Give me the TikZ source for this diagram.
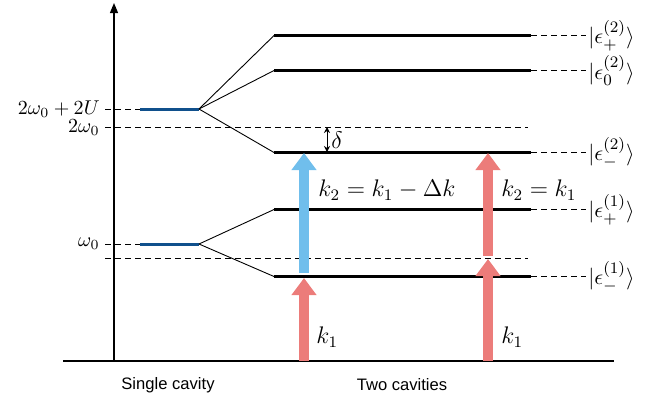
\documentclass[tikz,border=0pt]{standalone}
\usepackage{fontspec}
\newfontfamily\captionfont{Liberation Sans}
\usetikzlibrary{arrows.meta}
\definecolor{cavityblue}{RGB}{16,80,140}
\definecolor{photonred}{RGB}{236,124,122}
\definecolor{photonblue}{RGB}{112,190,236}
\tikzset{
  level/.style={line width=1.2pt},
  cavlevel/.style={line width=1.5pt, cavityblue},
  guide/.style={dash pattern=on 3pt off 2pt, line width=0.4pt},
  split/.style={line width=0.45pt},
  photon/.style={line width=4.6pt, -{Triangle[width=12pt,length=8.5pt]}},
  ketlabel/.style={anchor=west, inner sep=1pt, font=\fontsize{11}{13}\selectfont},
  energylabel/.style={anchor=east, inner sep=2.5pt},
  klabel/.style={anchor=west, inner sep=2pt, font=\large},
  caption/.style={font=\captionfont\fontsize{8.3}{10}\selectfont},
}
\begin{document}
\begin{tikzpicture}[x=0.5pt,y=-0.5pt]
\useasboundingbox (0,0) rectangle (662,403);
% axes
\coordinate (origin) at (114,361);
\coordinate (top) at (114,3);
\coordinate (baseL) at (63,361);
\coordinate (baseR) at (614,361);
\draw[line width=0.6pt, -{Triangle[length=5pt,width=4pt]}] (origin) -- (top);
\draw[line width=1.2pt] (baseL) -- (baseR);
% single cavity
\coordinate (s2L) at (140,109);
\coordinate (s2R) at (199,109);
\coordinate (s1L) at (140,244);
\coordinate (s1R) at (199,244);
\node[energylabel] (e2U) at (105,109) {$2\omega_0+2U$};
\node[energylabel] (e2) at (105,128) {$2\omega_0$};
\node[energylabel] (e1) at (105,244) {$\omega_0$};
\coordinate (g2R) at (528,127);
\coordinate (g1L) at (105,258);
\coordinate (g1R) at (528,258);
\draw[guide] (e2U.east) -- (s2L);
\draw[guide] (e1.east) -- (s1L);
\draw[guide] (105,127) -- (g2R);
\draw[guide] (g1L) -- (g1R);
\draw[cavlevel] (s2L) -- (s2R);
\draw[cavlevel] (s1L) -- (s1R);
% two cavities
\foreach \name/\y/\ket in {2p/35.5/{\epsilon^{(2)}_+}, 20/70.5/{\epsilon^{(2)}_0}, 2m/152.5/{\epsilon^{(2)}_-}, 1p/209.5/{\epsilon^{(1)}_+}, 1m/276.5/{\epsilon^{(1)}_-}}{
  \coordinate (\name L) at (274,\y);
  \coordinate (\name R) at (531,\y);
  \node[ketlabel] (ket\name) at (586,\y) {$|\ket\rangle$};
  \draw[level] (\name L) -- (\name R);
  \draw[guide] (\name R) -- (ket\name.west);
}
\draw[split] (s2R) -- (2pL);
\draw[split] (s2R) -- (20L);
\draw[split] (s2R) -- (2mL);
\draw[split] (s1R) -- (1pL);
\draw[split] (s1R) -- (1mL);
% detuning
\coordinate (dTop) at (327,127);
\coordinate (dBot) at (327,152);
\draw[line width=0.5pt, {Stealth[length=3pt,width=3pt]}-{Stealth[length=3pt,width=3pt]}] (dTop) -- (dBot);
\node[anchor=west, inner sep=1pt, font=\large] (delta) at (329,140) {$\delta$};
% photons
\coordinate (pA0) at (304,361);
\coordinate (pA1) at (304,278);
\coordinate (pA2) at (304,273);
\coordinate (pA3) at (304,153);
\coordinate (pB0) at (488,361);
\coordinate (pB1) at (488,259);
\coordinate (pB2) at (488,256);
\coordinate (pB3) at (488,153);
\draw[photon, photonred] (pA0) -- (pA1);
\draw[photon, photonblue] (pA2) -- (pA3);
\draw[photon, photonred] (pB0) -- (pB1);
\draw[photon, photonred] (pB2) -- (pB3);
\node[klabel] (kA1) at (312,337) {$k_1$};
\node[klabel] (kA2) at (314,190) {$k_2=k_1-\Delta k$};
\node[klabel] (kB1) at (497,337) {$k_1$};
\node[klabel] (kB2) at (497,190) {$k_2=k_1$};
% captions
\node[caption] (single) at (168,385) {Single cavity};
\node[caption] (two) at (402,385) {Two cavities};
\end{tikzpicture}
\end{document}
